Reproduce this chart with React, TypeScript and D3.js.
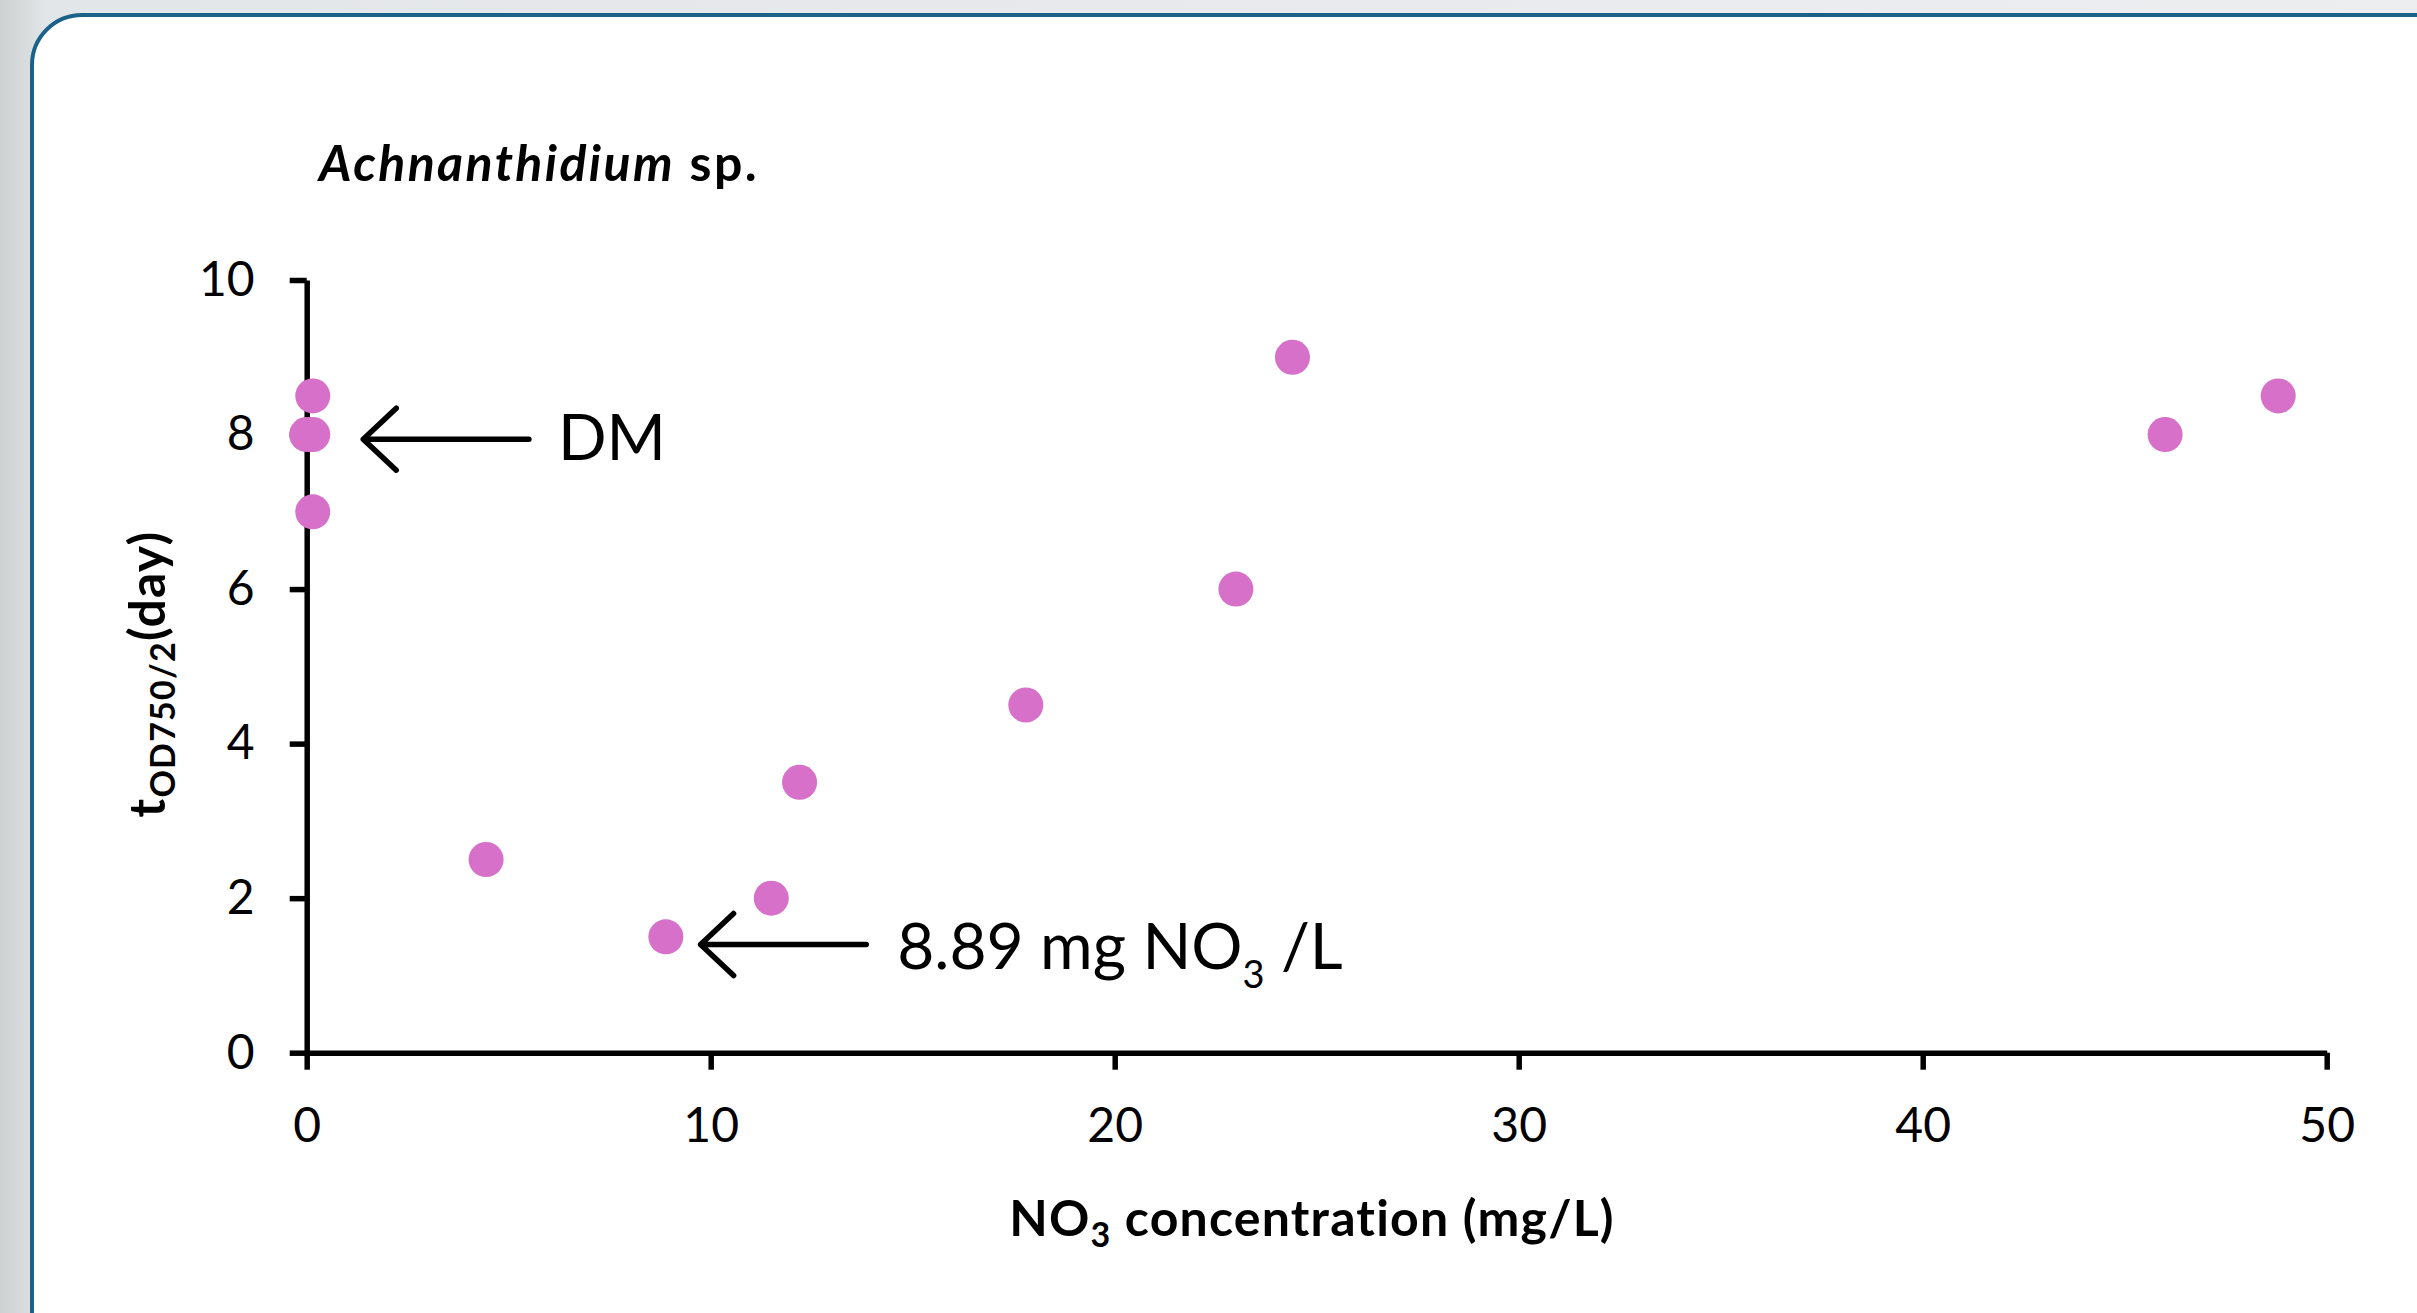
import * as d3 from "d3";
import { useEffect, useRef } from "react";

// NO3 concentration (mg/L) and time to OD750/2 (day)
const no3 = [0, 0.15, 0.15, 0.15, 4.44, 8.89, 11.5, 12.2, 17.8, 23.0, 24.4, 46.0, 48.8];
const tHalf = [8, 8, 8.5, 7, 2.5, 1.5, 2, 3.5, 4.5, 6, 9, 8, 8.5];

const xTicks = [0, 10, 20, 30, 40, 50];
const yTicks = [0, 2, 4, 6, 8, 10];

// arrow annotations, in data units
const noteTipX = [1.4, 9.75];
const noteTailX = [5.5, 13.85];
const noteY = [7.94, 1.4];

const W = 2417;
const H = 1313;
const FONT = "Lato, 'Open Sans', sans-serif";

function App() {
    const ref = useRef<SVGSVGElement>(null);

    useEffect(() => {
        const svg = d3.select(ref.current);
        svg.selectAll("*").remove();

        // page background + card
        const defs = svg.append("defs");
        const grad = defs.append("linearGradient").attr("id", "bg").attr("x1", 0).attr("x2", 1);
        grad.append("stop").attr("offset", 0).attr("stop-color", "#cdd1d1");
        grad.append("stop").attr("offset", 0.02).attr("stop-color", "#e3e6e8");
        grad.append("stop").attr("offset", 1).attr("stop-color", "#eceef0");
        svg.append("rect").attr("width", W).attr("height", H).attr("fill", "url(#bg)");
        svg.append("rect")
            .attr("x", 32).attr("y", 15)
            .attr("width", 2470).attr("height", 1380)
            .attr("rx", 50)
            .attr("fill", "#fff")
            .attr("stroke", "#1b6189")
            .attr("stroke-width", 4);

        const x = d3.scaleLinear().domain([0, 50]).range([306.7, 2326.7]);
        const y = d3.scaleLinear().domain([0, 10]).range([1052.7, 280]);

        // x axis
        const gx = svg.append("g")
            .attr("transform", `translate(0,${y(0)})`)
            .call(d3.axisBottom(x).tickValues(xTicks).tickSize(17).tickSizeOuter(0).tickPadding(38));
        // y axis
        const gy = svg.append("g")
            .attr("transform", `translate(${x(0)},0)`)
            .call(d3.axisLeft(y).tickValues(yTicks).tickSize(17).tickSizeOuter(0).tickPadding(35));

        [gx, gy].forEach((g) => {
            g.attr("font-family", FONT).attr("font-size", 48);
            g.select(".domain").attr("stroke", "#000").attr("stroke-width", 5.5);
            g.selectAll(".tick line").attr("stroke", "#000").attr("stroke-width", 5.5);
            g.selectAll(".tick text").attr("fill", "#000");
        });

        // points
        svg.append("g")
            .selectAll("circle")
            .data(no3)
            .enter()
            .append("circle")
            .attr("cx", (d) => x(d))
            .attr("cy", (d, i) => y(tHalf[i]))
            .attr("r", 17.5)
            .attr("fill", "#d670c8");

        // arrows
        noteTipX.forEach((tx, i) => {
            const px = x(tx);
            const py = y(noteY[i]);
            const tail = x(noteTailX[i]);
            svg.append("path")
                .attr("d", `M${px + 33},${py - 31}L${px},${py}L${px + 33},${py + 31}M${px},${py}H${tail}`)
                .attr("fill", "none")
                .attr("stroke", "#000")
                .attr("stroke-width", 5.5)
                .attr("stroke-linecap", "round")
                .attr("stroke-linejoin", "round");
        });

        // DM label
        svg.append("text")
            .attr("x", x(noteTailX[0]) + 29)
            .attr("y", y(noteY[0]) + 21)
            .attr("font-family", FONT)
            .attr("font-size", 64)
            .text("DM");

        // 8.89 mg NO3 /L label
        const t2 = svg.append("text")
            .attr("x", x(noteTailX[1]) + 31)
            .attr("y", y(noteY[1]) + 24)
            .attr("font-family", FONT)
            .attr("font-size", 64);
        t2.append("tspan").text("8.89 mg NO");
        t2.append("tspan").attr("font-size", 38).attr("dy", 19).text("3");
        t2.append("tspan").attr("dy", -19).text("\u00a0/L");

        // title
        const title = svg.append("text")
            .attr("x", 319)
            .attr("y", 181)
            .attr("font-family", FONT)
            .attr("font-size", 50)
            .attr("font-weight", "bold")
            .attr("letter-spacing", 2.4);
        title.append("tspan").attr("font-style", "italic").text("Achnanthidium");
        title.append("tspan").text(" sp.");

        // x axis title
        const xl = svg.append("text")
            .attr("x", 1312)
            .attr("y", 1236)
            .attr("text-anchor", "middle")
            .attr("font-family", FONT)
            .attr("font-size", 50)
            .attr("font-weight", "bold")
            .attr("letter-spacing", 1.2);
        xl.append("tspan").text("NO");
        xl.append("tspan").attr("font-size", 34).attr("dy", 11).text("3");
        xl.append("tspan").attr("dy", -11).text(" concentration (mg/L)");

        // y axis title
        const yl = svg.append("text")
            .attr("transform", "translate(165,674) rotate(-90)")
            .attr("text-anchor", "middle")
            .attr("font-family", FONT)
            .attr("font-size", 50)
            .attr("font-weight", "bold")
            .attr("letter-spacing", 1.2);
        yl.append("tspan").text("t");
        yl.append("tspan").attr("font-size", 34).attr("dy", 10).text("OD750/2");
        yl.append("tspan").attr("dy", -10).text("(day)");
    }, []);

    return (
        <svg
            ref={ref}
            width={W}
            height={H}
            style={{ position: "absolute", left: 0, top: 0, display: "block" }}
        />
    );
}

export default App;
